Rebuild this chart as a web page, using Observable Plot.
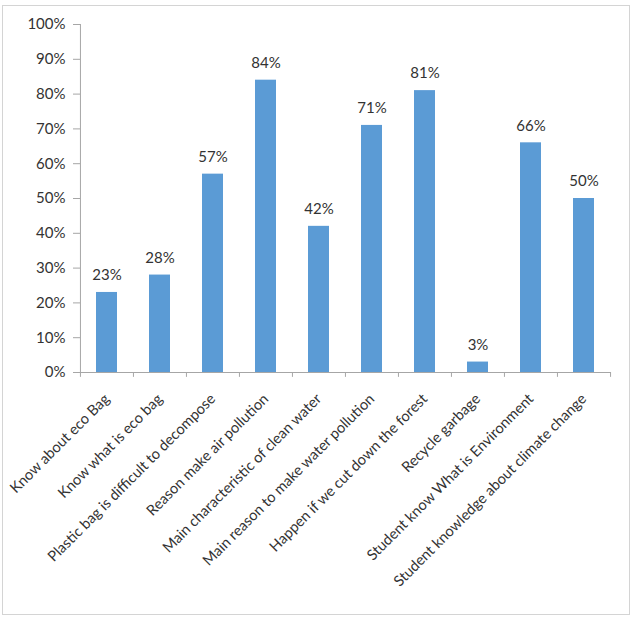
<!DOCTYPE html>
<html>
<head>
<meta charset="utf-8">
<script src="https://cdn.jsdelivr.net/npm/d3@7"></script>
<script src="https://cdn.jsdelivr.net/npm/@observablehq/plot@0.6"></script>
<style>
  html, body { margin: 0; padding: 0; background: #fff; }
  #wrap { position: relative; width: 633px; height: 625px; }
  #border { position: absolute; left: 2px; top: 5px; width: 626px; height: 608px; border: 1px solid #d4d4d4; pointer-events: none; }
  #chart { position: absolute; left: 0; top: 0; }
</style>
</head>
<body>
<div id="wrap"><div id="chart"></div><div id="border"></div></div>
<script>
const categories = [
  "Know about eco Bag",
  "Know what is eco bag",
  "Plastic bag is difficult to decompose",
  "Reason make air pollution",
  "Main characteristic of clean water",
  "Main reason to make water pollution",
  "Happen if we cut down the forest",
  "Recycle garbage",
  "Student know What is Environment",
  "Student knowledge about climate change"
];
const values = [0.23, 0.28, 0.57, 0.84, 0.42, 0.71, 0.81, 0.03, 0.66, 0.50];
const yTicks = [0, 0.1, 0.2, 0.3, 0.4, 0.5, 0.6, 0.7, 0.8, 0.9, 1.0];

const data = categories.map((c, i) => ({category: c, value: values[i]}));

const W = 633, H = 625, ml = 80, mr = 22, mt = 24, mb = 253;
const step = (W - ml - mr) / categories.length;
const font = "Lato, sans-serif";
const textColor = "#333333";
const axisColor = "#a6a6a6";

const chart = Plot.plot({
  width: W,
  height: H,
  marginLeft: ml,
  marginRight: mr,
  marginTop: mt,
  marginBottom: mb,
  style: {fontFamily: font, fontSize: "15px", color: textColor, background: "transparent"},
  x: {domain: categories, paddingInner: 0.6, paddingOuter: 0.3},
  y: {domain: [0, 1]},
  marks: [
    Plot.barY(data, {x: "category", y: "value", fill: "#5b9bd5"}),
    Plot.text(data, {x: "category", y: "value", text: d => Math.round(d.value * 100) + "%", dy: -17, fill: textColor, fontSize: 15}),
    Plot.ruleY([0], {stroke: axisColor}),
    Plot.ruleX([categories[0]], {dx: -step / 2, y1: 0, y2: 1, stroke: axisColor}),
    Plot.ruleX(categories, {x: d => d, dx: -step / 2, y1: 0, y2: -0.014, stroke: axisColor}),
    Plot.ruleX([categories[categories.length - 1]], {dx: step / 2, y1: 0, y2: -0.014, stroke: axisColor}),
    Plot.axisY({ticks: yTicks, tickFormat: d => Math.round(d * 100) + "%", tickSize: 7, tickPadding: 8, stroke: axisColor, fill: textColor, label: null, fontSize: 15}),
    Plot.axisX({tickSize: 0, tickRotate: -45, tickPadding: 24, fill: textColor, label: null, fontSize: 14.7})
  ]
});
document.getElementById("chart").appendChild(chart);
</script>
</body>
</html>
